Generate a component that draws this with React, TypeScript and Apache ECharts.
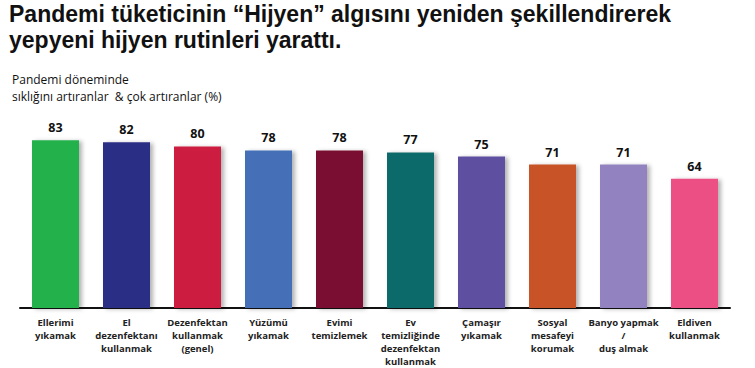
import React, { useEffect, useRef } from "react";
import * as echarts from "echarts";

const categories = [
  "Ellerimi\nyıkamak",
  "El\ndezenfektanı\nkullanmak",
  "Dezenfektan\nkullanmak\n(genel)",
  "Yüzümü\nyıkamak",
  "Evimi\ntemizlemek",
  "Ev\ntemizliğinde\ndezenfektan\nkullanmak",
  "Çamaşır\nyıkamak",
  "Sosyal\nmesafeyi\nkorumak",
  "Banyo yapmak\n/\nduş almak",
  "Eldiven\nkullanmak",
];
const values = [83, 82, 80, 78, 78, 77, 75, 71, 71, 64];
const colors = [
  "#22b14c",
  "#2b2d84",
  "#cc1f40",
  "#4470b8",
  "#7a1030",
  "#0e6b6b",
  "#5e4fa0",
  "#c85228",
  "#9283c0",
  "#ec4f84",
];
const titleLine1 = "Pandemi tüketicinin “Hijyen” algısını yeniden şekillendirerek";
const titleLine2 = "yepyeni hijyen rutinleri yarattı.";
const subtitleText = "Pandemi döneminde\nsıklığını artıranlar  & çok artıranlar (%)";

export default function App() {
  const ref = useRef<HTMLDivElement>(null);
  useEffect(() => {
    if (!ref.current) return;
    const chart = echarts.init(ref.current, undefined, { renderer: "svg" });
    const titleStyle = {
      fontFamily: "Liberation Sans",
      fontWeight: "bold",
      fontSize: 23,
      lineHeight: 26,
      color: "#111111",
    };
    chart.setOption({
      animation: false,
      backgroundColor: "#ffffff",
      title: [
        { text: titleLine1, left: 9, top: 1, padding: 0, textStyle: titleStyle },
        { text: titleLine2, left: 9, top: 27, padding: 0, textStyle: titleStyle },
        {
          text: subtitleText,
          left: 7,
          top: 66,
          textStyle: {
            fontFamily: "Open Sans",
            fontWeight: "normal",
            fontSize: 12,
            lineHeight: 17,
            color: "#111111",
          },
        },
      ],
      grid: { left: 20, right: 25, top: 106, bottom: 60, containLabel: false },
      xAxis: {
        type: "category",
        data: categories,
        axisLine: { lineStyle: { color: "#111111", width: 2 } },
        axisTick: { show: false },
        axisLabel: {
          interval: 0,
          margin: 8,
          fontFamily: "Open Sans",
          fontWeight: "bold",
          fontSize: 9.5,
          lineHeight: 13,
          color: "#222222",
        },
      },
      yAxis: {
        type: "value",
        min: 0,
        max: 100,
        show: false,
        splitLine: { show: false },
      },
      series: [
        {
          type: "bar",
          barWidth: 47,
          data: values.map((v, i) => ({
            value: v,
            itemStyle: { color: colors[i] },
          })),
          itemStyle: {
            shadowColor: "rgba(0,0,0,0.3)",
            shadowOffsetX: 3,
            shadowOffsetY: 1,
            shadowBlur: 4,
          },
          label: {
            show: true,
            position: "top",
            distance: 6,
            fontFamily: "Open Sans",
            fontWeight: "bold",
            fontSize: 12.5,
            color: "#111111",
          },
        },
      ],
    });
    return () => chart.dispose();
  }, []);
  return (
    <div
      ref={ref}
      style={{ position: "fixed", left: 0, top: 0, width: 755, height: 368 }}
    />
  );
}
